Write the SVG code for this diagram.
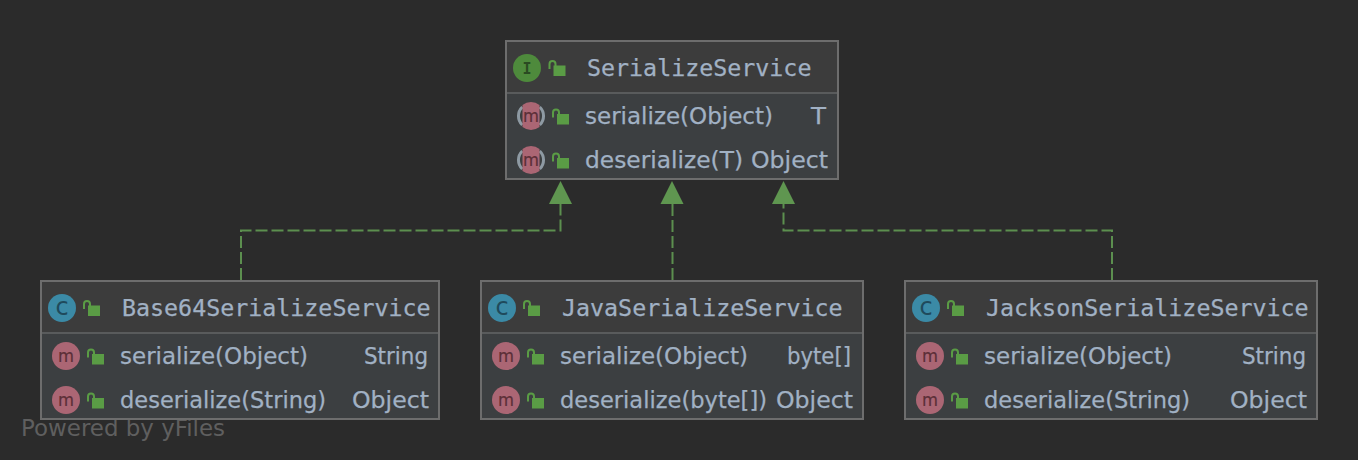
<svg xmlns="http://www.w3.org/2000/svg" width="1358" height="460" viewBox="0 0 1358 460">
<style>
.box{fill:#3c3f41;stroke:#6d6d6d;stroke-width:2}
.head{fill:#3c3c3c}
.sep{stroke:#595b5c;stroke-width:2;fill:none}
.title{font:23.3px "DejaVu Sans Mono",monospace;fill:#a1b1c4;stroke:#a1b1c4;stroke-width:.25}
.t{font:23px "DejaVu Sans","Liberation Sans",sans-serif;fill:#a1b1c4;stroke:#a1b1c4;stroke-width:.25}
.edge{fill:none;stroke:#5c8f4f;stroke-width:2;stroke-dasharray:12 4}
.arrow{fill:#5f9650}
.mi{fill:#ab6674}
.ml{font:18px "DejaVu Sans",sans-serif;fill:#5c2f38;stroke:#5c2f38;stroke-width:.2;text-anchor:middle}
</style>
<defs>
<g id="lock"><path d="M-4 3.500V-1.500a3 3 0 0 1 6 0V1" fill="none" stroke="#5a9c45" stroke-width="2"/><rect x="0" y="0" width="12" height="10.500" fill="#5a9c45"/></g>
<g id="m"><circle r="14" class="mi"/><text class="ml" y="6" textLength="16" lengthAdjust="spacingAndGlyphs">m</text></g>
<g id="c"><circle r="14" fill="#3b8aa6"/><text y="6.500" text-anchor="middle" style="font:24px 'DejaVu Sans',sans-serif;fill:#1f4a5c">c</text></g>
<g id="mo"><path d="M-8.700 -9A12.500 12.500 0 0 0 -8.700 9M8.700 -9A12.500 12.500 0 0 1 8.700 9" fill="none" stroke="#8e9aa3" stroke-width="3"/><path class="mi" d="M-8.500 -11.100A14 14 0 0 1 8.500 -11.100V11.100A14 14 0 0 1 -8.500 11.100Z"/><text class="ml" y="6" textLength="16" lengthAdjust="spacingAndGlyphs">m</text></g>
</defs>
<rect width="1358" height="460" fill="#2b2b2b"/>
<text x="21" y="436" textLength="204" lengthAdjust="spacingAndGlyphs" style="font:23.200px 'DejaVu Sans',sans-serif;fill:#5f5f5f">Powered by yFiles</text>
<g id="connectors">
<path class="edge" d="M241 280V230.500H560.500V204"/>
<path class="edge" d="M672.500 280V204"/>
<path class="edge" d="M1112 280V230.500H783.500V204"/>
<path class="arrow" d="M560.500 181L572 204H549Z"/>
<path class="arrow" d="M672 181L683.500 204H660.500Z"/>
<path class="arrow" d="M783.500 181L795 204H772Z"/>
</g>
<g id="SerializeService">
<rect class="box" x="506" y="41" width="332" height="138"/>
<rect class="head" x="507" y="42" width="330" height="51"/>
<path class="sep" d="M507 93H837"/>
<circle cx="527" cy="68" r="14" fill="#4e8a3c"/>
<text x="527" y="73.500" text-anchor="middle" style="font:bold 15px 'DejaVu Sans Mono',monospace;fill:#2a4a22">I</text>
<use href="#lock" x="553.500" y="65.500"/>
<text class="title" x="587" y="76">SerializeService</text>
<use href="#mo" x="531" y="116"/><use href="#lock" x="557" y="114"/>
<text class="t" x="585" y="124" textLength="188" lengthAdjust="spacingAndGlyphs">serialize(Object)</text><text class="t" x="811" y="124" textLength="15" lengthAdjust="spacingAndGlyphs">T</text>
<use href="#mo" x="531" y="160"/><use href="#lock" x="557" y="158"/>
<text class="t" x="585" y="168" textLength="158" lengthAdjust="spacingAndGlyphs">deserialize(T)</text><text class="t" x="751" y="168" textLength="77" lengthAdjust="spacingAndGlyphs">Object</text>
</g>
<g id="Base64SerializeService">
<rect class="box" x="41" y="281" width="398" height="138"/>
<rect class="head" x="42" y="282" width="396" height="51"/>
<path class="sep" d="M42 333H438"/>
<use href="#c" x="62" y="308"/><use href="#lock" x="88" y="305.500"/>
<text class="title" x="122" y="316">Base64SerializeService</text>
<use href="#m" x="66" y="356"/><use href="#lock" x="92" y="354"/>
<text class="t" x="120" y="364" textLength="188" lengthAdjust="spacingAndGlyphs">serialize(Object)</text><text class="t" x="364" y="364" textLength="64" lengthAdjust="spacingAndGlyphs">String</text>
<use href="#m" x="66" y="400"/><use href="#lock" x="92" y="398"/>
<text class="t" x="120" y="408" textLength="206" lengthAdjust="spacingAndGlyphs">deserialize(String)</text><text class="t" x="352" y="408" textLength="77" lengthAdjust="spacingAndGlyphs">Object</text>
</g>
<g id="JavaSerializeService">
<rect class="box" x="481" y="281" width="382" height="138"/>
<rect class="head" x="482" y="282" width="380" height="51"/>
<path class="sep" d="M482 333H862"/>
<use href="#c" x="502" y="308"/><use href="#lock" x="528" y="305.500"/>
<text class="title" x="562" y="316">JavaSerializeService</text>
<use href="#m" x="506" y="356"/><use href="#lock" x="532" y="354"/>
<text class="t" x="560" y="364" textLength="188" lengthAdjust="spacingAndGlyphs">serialize(Object)</text><text class="t" x="787" y="364" textLength="64" lengthAdjust="spacingAndGlyphs">byte[]</text>
<use href="#m" x="506" y="400"/><use href="#lock" x="532" y="398"/>
<text class="t" x="560" y="408" textLength="207" lengthAdjust="spacingAndGlyphs">deserialize(byte[])</text><text class="t" x="776" y="408" textLength="77" lengthAdjust="spacingAndGlyphs">Object</text>
</g>
<g id="JacksonSerializeService">
<rect class="box" x="905" y="281" width="412" height="138"/>
<rect class="head" x="906" y="282" width="410" height="51"/>
<path class="sep" d="M906 333H1316"/>
<use href="#c" x="926" y="308"/><use href="#lock" x="952" y="305.500"/>
<text class="title" x="986" y="316">JacksonSerializeService</text>
<use href="#m" x="930" y="356"/><use href="#lock" x="956" y="354"/>
<text class="t" x="984" y="364" textLength="188" lengthAdjust="spacingAndGlyphs">serialize(Object)</text><text class="t" x="1242" y="364" textLength="64" lengthAdjust="spacingAndGlyphs">String</text>
<use href="#m" x="930" y="400"/><use href="#lock" x="956" y="398"/>
<text class="t" x="984" y="408" textLength="206" lengthAdjust="spacingAndGlyphs">deserialize(String)</text><text class="t" x="1230" y="408" textLength="77" lengthAdjust="spacingAndGlyphs">Object</text>
</g>
</svg>
